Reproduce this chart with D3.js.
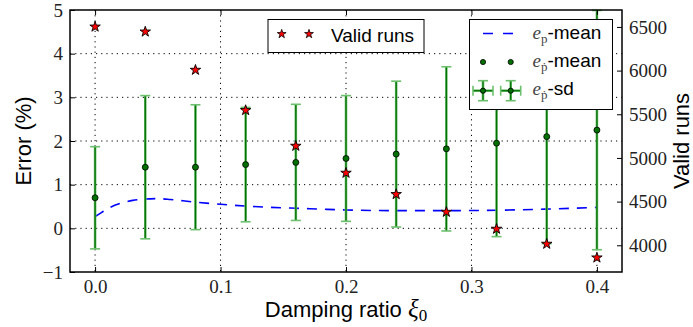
<!DOCTYPE html>
<html>
<head>
<meta charset="utf-8">
<script src="https://cdn.jsdelivr.net/npm/d3@7"></script>
<style>
  body { margin: 0; background: #fff; }
</style>
</head>
<body>
<div id="chart"></div>
<script>
// damping ratios where the runs were made
const ratios = [0, 0.04, 0.08, 0.12, 0.16, 0.2, 0.24, 0.28, 0.32, 0.36, 0.4]
// valid runs (right axis)
const validRuns = [6502, 6445, 6007, 5546, 5137, 4828, 4584, 4381, 4187, 4015, 3858]
// e_pdot mean and sd (%)
const pdotMean = [0.70, 1.40, 1.40, 1.46, 1.51, 1.60, 1.70, 1.82, 1.95, 2.10, 2.25]
const pdotSd = [1.17, 1.64, 1.43, 1.31, 1.33, 1.44, 1.67, 1.88, 2.14, 2.45, 2.74]
// e_p mean curve (%)
const pMeanX = [0, 0.005, 0.01, 0.02, 0.03, 0.04, 0.05, 0.06, 0.07, 0.08, 0.1, 0.12, 0.14, 0.16, 0.18, 0.2, 0.24, 0.28, 0.32, 0.36, 0.4]
const pMeanY = [0.27, 0.36, 0.45, 0.57, 0.64, 0.67, 0.68, 0.66, 0.63, 0.60, 0.55, 0.51, 0.48, 0.46, 0.44, 0.42, 0.405, 0.405, 0.415, 0.44, 0.48]

const xTicks = [0, 0.1, 0.2, 0.3, 0.4]
const leftTicks = [-1, 0, 1, 2, 3, 4, 5]
const rightTicks = [4000, 4500, 5000, 5500, 6000, 6500]

const width = 693
const height = 327
const pl = 70, pr = 622, pt = 10, pb = 272

const sans = "'Liberation Sans', Arial, sans-serif"
const serif = "'Liberation Serif', 'DejaVu Serif', serif"

const x = d3.scaleLinear().domain([-0.02, 0.42]).range([pl, pr])
const yL = d3.scaleLinear().domain([-1, 5]).range([pb, pt])
const yR = d3.scaleLinear().domain([3694, 6694]).range([pb, pt])

const darkGreen = "#007000"
const lightGreen = "#6cbf6c"

const svg = d3.select("#chart").append("svg")
  .attr("width", width)
  .attr("height", height)
  .attr("font-family", sans)

// grid
const grid = svg.append("g")
  .attr("stroke", "#000")
  .attr("stroke-width", 1)
  .attr("stroke-dasharray", "1.2,4")
grid.selectAll("line.v")
  .data(xTicks)
  .join("line")
  .attr("class", "v")
  .attr("x1", d => x(d)).attr("x2", d => x(d))
  .attr("y1", pt).attr("y2", pb)
grid.selectAll("line.h")
  .data(leftTicks.slice(1, -1))
  .join("line")
  .attr("class", "h")
  .attr("x1", pl).attr("x2", pr)
  .attr("y1", d => yL(d)).attr("y2", d => yL(d))

// e_p mean dashed curve
const line = d3.line()
  .x((d, i) => x(pMeanX[i]))
  .y(d => yL(d))
  .curve(d3.curveMonotoneX)

svg.append("path")
  .datum(pMeanY)
  .attr("fill", "none")
  .attr("stroke", "#0000ff")
  .attr("stroke-width", 1.6)
  .attr("stroke-dasharray", "10,8")
  .attr("d", line)

// error bars
const bars = svg.append("g")
  .selectAll("g")
  .data(ratios.map((r, i) => ({ r, m: pdotMean[i], s: pdotSd[i] })))
  .join("g")

bars.append("line")
  .attr("x1", d => x(d.r)).attr("x2", d => x(d.r))
  .attr("y1", d => yL(Math.min(5, d.m + d.s))).attr("y2", d => yL(d.m - d.s))
  .attr("stroke", lightGreen)
  .attr("stroke-width", 2.6)
bars.append("line")
  .attr("x1", d => x(d.r)).attr("x2", d => x(d.r))
  .attr("y1", d => yL(Math.min(5, d.m + d.s))).attr("y2", d => yL(d.m - d.s))
  .attr("stroke", darkGreen)
  .attr("stroke-width", 1.3)
bars.selectAll("line.cap")
  .data(d => [d.m + d.s, d.m - d.s].filter(v => v <= 5).map(v => ({ r: d.r, v })))
  .join("line")
  .attr("class", "cap")
  .attr("x1", d => x(d.r) - 5).attr("x2", d => x(d.r) + 5)
  .attr("y1", d => yL(d.v)).attr("y2", d => yL(d.v))
  .attr("stroke", lightGreen)
  .attr("stroke-width", 1.6)

svg.append("g")
  .selectAll("circle")
  .data(ratios)
  .join("circle")
  .attr("cx", d => x(d))
  .attr("cy", (d, i) => yL(pdotMean[i]))
  .attr("r", 3)
  .attr("fill", darkGreen)
  .attr("stroke", "#000")
  .attr("stroke-width", 0.8)

// valid runs stars
const star = d3.symbol().type(d3.symbolStar).size(34)
svg.append("g")
  .selectAll("path")
  .data(ratios)
  .join("path")
  .attr("transform", (d, i) => `translate(${x(d)},${yR(validRuns[i])})`)
  .attr("d", star)
  .attr("fill", "#ff0000")
  .attr("stroke", "#000")
  .attr("stroke-width", 0.9)

// axes, ticks pointing inside
svg.append("g")
  .attr("transform", `translate(0,${pb})`)
  .call(d3.axisBottom(x).tickValues(xTicks).tickFormat(d3.format(".1f")).tickSize(-5).tickPadding(8))
svg.append("g")
  .attr("transform", `translate(0,${pt})`)
  .call(d3.axisTop(x).tickValues(xTicks).tickFormat("").tickSize(-5))
svg.append("g")
  .attr("transform", `translate(${pl},0)`)
  .call(d3.axisLeft(yL).tickValues(leftTicks).tickFormat(d => d < 0 ? "\u2212" + Math.abs(d) : d).tickSize(-5).tickPadding(7))
svg.append("g")
  .attr("transform", `translate(${pr},0)`)
  .call(d3.axisRight(yR).tickValues(rightTicks).tickFormat(d3.format("d")).tickSize(-5).tickPadding(7))

svg.selectAll(".domain").remove()
svg.selectAll(".tick line").attr("stroke", "#000").attr("stroke-width", 1)
svg.selectAll(".tick text")
  .attr("font-family", serif)
  .attr("font-size", 19)
  .attr("fill", "#222")

svg.append("rect")
  .attr("x", pl).attr("y", pt)
  .attr("width", pr - pl).attr("height", pb - pt)
  .attr("fill", "none")
  .attr("stroke", "#000")
  .attr("stroke-width", 1.5)

// axis labels
svg.append("text")
  .attr("transform", `translate(31,${(pt + pb) / 2}) rotate(-90)`)
  .attr("text-anchor", "middle")
  .attr("font-size", 22)
  .text("Error (%)")

svg.append("text")
  .attr("transform", `translate(689,${(pt + pb) / 2}) rotate(-90)`)
  .attr("text-anchor", "middle")
  .attr("font-size", 22)
  .text("Valid runs")

const xl = svg.append("text")
  .attr("x", (pl + pr) / 2)
  .attr("y", 317)
  .attr("text-anchor", "middle")
  .attr("font-size", 22)
xl.append("tspan").text("Damping ratio ")
xl.append("tspan").attr("font-family", serif).attr("font-style", "italic").attr("font-size", 25).text("ξ")
xl.append("tspan").attr("font-family", serif).attr("font-size", 17).attr("dy", 4).text("0")

// legend: valid runs
const leg1 = svg.append("g")
leg1.append("rect")
  .attr("x", 268).attr("y", 19.5).attr("width", 156).attr("height", 33)
  .attr("fill", "#fff").attr("stroke", "#000").attr("stroke-width", 1)
leg1.selectAll("path")
  .data([281.7, 309])
  .join("path")
  .attr("transform", d => `translate(${d},34)`)
  .attr("d", d3.symbol().type(d3.symbolStar).size(24))
  .attr("fill", "#ff0000").attr("stroke", "#000").attr("stroke-width", 0.8)
leg1.append("text")
  .attr("x", 331).attr("y", 41.5)
  .attr("font-size", 19)
  .text("Valid runs")

// legend: errors
const leg2 = svg.append("g")
leg2.append("rect")
  .attr("x", 469.5).attr("y", 19.5).attr("width", 143).attr("height", 90)
  .attr("fill", "#fff").attr("stroke", "#000").attr("stroke-width", 1)
leg2.append("line")
  .attr("x1", 483).attr("x2", 513).attr("y1", 33.5).attr("y2", 33.5)
  .attr("stroke", "#0000ff").attr("stroke-width", 1.6).attr("stroke-dasharray", "10,10")
leg2.selectAll("circle.m")
  .data([483, 510.7])
  .join("circle")
  .attr("class", "m")
  .attr("cx", d => d).attr("cy", 62)
  .attr("r", 2.6)
  .attr("fill", darkGreen).attr("stroke", "#000").attr("stroke-width", 0.8)
const eb = leg2.selectAll("g.eb")
  .data([483, 510.7])
  .join("g")
  .attr("class", "eb")
  .attr("transform", d => `translate(${d},90.7)`)
eb.append("line").attr("x1", -10).attr("x2", 10).attr("stroke", lightGreen).attr("stroke-width", 2.6)
eb.append("line").attr("y1", -10).attr("y2", 10).attr("stroke", lightGreen).attr("stroke-width", 2.6)
eb.append("line").attr("x1", -10).attr("x2", 10).attr("stroke", darkGreen).attr("stroke-width", 1.2)
eb.append("line").attr("y1", -10).attr("y2", 10).attr("stroke", darkGreen).attr("stroke-width", 1.2)
eb.selectAll("line.c")
  .data([[-5, -10, 5, -10], [-5, 10, 5, 10], [-10, -5, -10, 5], [10, -5, 10, 5]])
  .join("line")
  .attr("class", "c")
  .attr("x1", d => d[0]).attr("y1", d => d[1]).attr("x2", d => d[2]).attr("y2", d => d[3])
  .attr("stroke", lightGreen).attr("stroke-width", 1.6)
eb.append("circle").attr("r", 2.6).attr("fill", darkGreen).attr("stroke", "#000").attr("stroke-width", 0.8)

const labels = [["p", "-mean"], ["ṗ", "-mean"], ["ṗ", "-sd"]]
leg2.selectAll("text")
  .data(labels)
  .join("text")
  .attr("x", 532.5)
  .attr("y", (d, i) => 38.5 + i * 28.3)
  .attr("font-size", 19)
  .each(function(d) {
    const t = d3.select(this)
    t.append("tspan").attr("font-family", serif).attr("font-style", "italic").attr("fill", "#444").text("e")
    t.append("tspan").attr("font-family", serif).attr("font-size", 13).attr("fill", "#444").attr("dy", 4).text(d[0])
    t.append("tspan").attr("dy", -4).text(d[1])
  })
</script>
</body>
</html>
